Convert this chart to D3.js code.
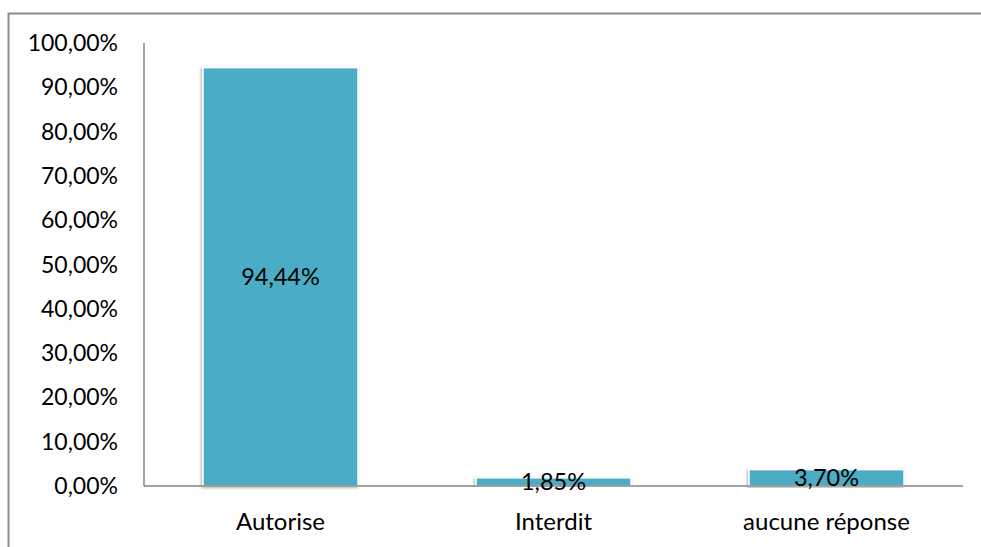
<!DOCTYPE html>
<html><head><meta charset="utf-8">
<script src="https://cdn.jsdelivr.net/npm/d3@7"></script>
<style>
html,body{margin:0;padding:0;background:#fff;overflow:hidden;}
svg{display:block;}
text{font-family:Lato,"Open Sans",sans-serif;fill:#000;}
</style></head>
<body>
<script>
const categories = ["Autorise", "Interdit", "aucune réponse"];
const values = [94.44, 1.85, 3.70];
const valueLabels = ["94,44%", "1,85%", "3,70%"];
const yTicks = [0, 10, 20, 30, 40, 50, 60, 70, 80, 90, 100];
const yTickLabels = ["0,00%", "10,00%", "20,00%", "30,00%", "40,00%", "50,00%", "60,00%", "70,00%", "80,00%", "90,00%", "100,00%"];

(function () {
const W = 981, H = 547;
const svg = d3.select("body").append("svg").attr("width", W).attr("height", H);

const defs = svg.append("defs");
const f = defs.append("filter").attr("id", "sh").attr("x", "-10%").attr("y", "-10%").attr("width", "120%").attr("height", "120%");
f.append("feDropShadow").attr("dx", -1).attr("dy", 1).attr("stdDeviation", 1.6)
  .attr("flood-color", "#000").attr("flood-opacity", 0.35);

// outer frame
svg.append("rect").attr("x", 8.5).attr("y", 13.5).attr("width", 980).attr("height", 540)
  .attr("fill", "none").attr("stroke", "#8a8a8a").attr("stroke-width", 2);

const pLeft = 144, pRight = 963, pTop = 43, pBottom = 486;
const x = d3.scaleBand().domain(categories).range([pLeft, pRight]).paddingInner(0.432).paddingOuter(0.216);
const y = d3.scaleLinear().domain([0, 100]).range([pBottom, pTop]);

// y labels
svg.append("g").selectAll("text").data(yTicks).join("text")
  .attr("x", 118).attr("y", d => y(d)).attr("dy", "0.35em")
  .attr("text-anchor", "end").attr("font-size", 23)
  .text((d, i) => yTickLabels[i]);

// bars
svg.append("g").selectAll("rect").data(values).join("rect")
  .attr("x", (d, i) => x(categories[i]))
  .attr("y", d => y(d))
  .attr("width", x.bandwidth())
  .attr("height", d => pBottom - y(d))
  .attr("fill", "#4BACC6")
  .attr("stroke", "#fff").attr("stroke-width", 1.5)
  .attr("filter", "url(#sh)");

// axes lines
svg.append("line").attr("x1", pLeft).attr("x2", pLeft).attr("y1", pTop).attr("y2", pBottom)
  .attr("stroke", "#868686").attr("stroke-width", 1.5);
svg.append("line").attr("x1", pLeft).attr("x2", pRight).attr("y1", pBottom).attr("y2", pBottom)
  .attr("stroke", "#868686").attr("stroke-width", 1.5);

// value labels
svg.append("g").selectAll("text").data(values).join("text")
  .attr("x", (d, i) => x(categories[i]) + x.bandwidth() / 2)
  .attr("y", d => (y(d) + pBottom) / 2)
  .attr("dy", "0.35em").attr("text-anchor", "middle").attr("font-size", 23.5)
  .text((d, i) => valueLabels[i]);

// category labels
svg.append("g").selectAll("text").data(categories).join("text")
  .attr("x", d => x(d) + x.bandwidth() / 2)
  .attr("y", 522).attr("dy", "0.35em").attr("text-anchor", "middle").attr("font-size", 24)
  .text(d => d);
})();
</script>
</body></html>
